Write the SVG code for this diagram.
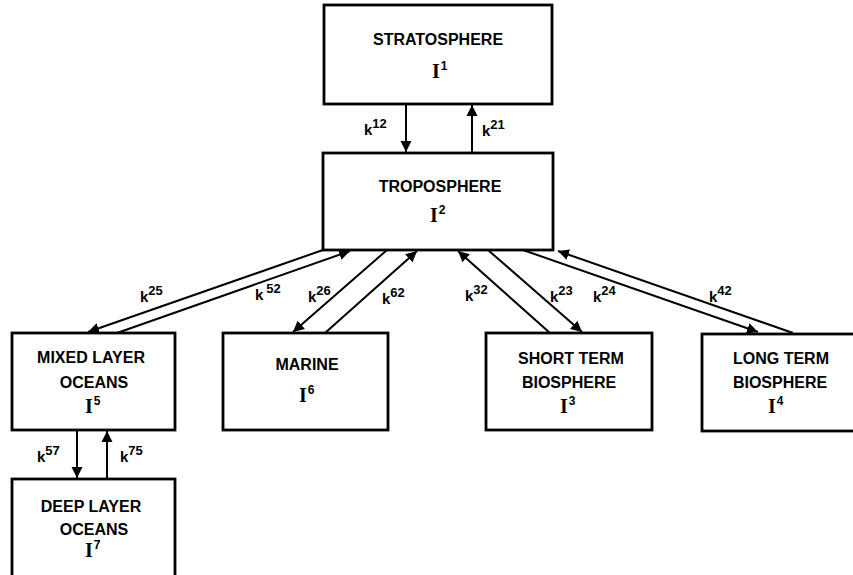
<svg xmlns="http://www.w3.org/2000/svg" width="853" height="575" viewBox="0 0 853 575">
<defs>
<style>
.box{fill:#fff;stroke:#000;stroke-width:2.8}
.ln{stroke:#000;stroke-width:2;fill:none;marker-end:url(#ah)}
.t{font-family:"Liberation Sans",Arial,sans-serif;font-weight:bold;font-size:16px;text-anchor:middle;fill:#000}
.i{font-family:"Liberation Serif","Times New Roman",serif;font-weight:bold;font-size:20px;fill:#000}
.is{font-family:"Liberation Sans",Arial,sans-serif;font-weight:bold;font-size:12px}
.k{font-family:"Liberation Sans",Arial,sans-serif;font-weight:bold;font-size:15px;fill:#000}
.ks{font-size:13px}
</style>
<marker id="ah" markerUnits="userSpaceOnUse" markerWidth="12" markerHeight="12" refX="11" refY="6" orient="auto">
<path d="M0,0.5 L11,6 L0,11.5 z" fill="#000"/>
</marker>
</defs>
<rect width="853" height="575" fill="#fff"/>
<g id="connectors">
<line class="ln" x1="406" y1="105" x2="406" y2="152"/>
<line class="ln" x1="472" y1="152" x2="472" y2="105"/>
<line class="ln" x1="323" y1="250" x2="88" y2="332"/>
<line class="ln" x1="117" y1="333" x2="350" y2="251"/>
<line class="ln" x1="387" y1="250" x2="293" y2="332"/>
<line class="ln" x1="325" y1="333" x2="417" y2="251"/>
<line class="ln" x1="550" y1="333" x2="458" y2="251"/>
<line class="ln" x1="488" y1="250" x2="582" y2="332"/>
<line class="ln" x1="523" y1="250" x2="758" y2="332"/>
<line class="ln" x1="793" y1="333" x2="558" y2="251"/>
<line class="ln" x1="77" y1="431" x2="77" y2="478"/>
<line class="ln" x1="107" y1="478" x2="107" y2="431"/>
<text class="k" x="364" y="135">k<tspan class="ks" dy="-7">12</tspan></text>
<text class="k" x="482" y="136">k<tspan class="ks" dy="-7">21</tspan></text>
<text class="k" x="140" y="302">k<tspan class="ks" dy="-7">25</tspan></text>
<text class="k" x="255" y="300">k<tspan class="ks" dx="3" dy="-7">52</tspan></text>
<text class="k" x="308" y="302">k<tspan class="ks" dy="-7">26</tspan></text>
<text class="k" x="382" y="304">k<tspan class="ks" dy="-7">62</tspan></text>
<text class="k" x="465" y="301">k<tspan class="ks" dy="-7">32</tspan></text>
<text class="k" x="550" y="302">k<tspan class="ks" dy="-7">23</tspan></text>
<text class="k" x="593" y="302">k<tspan class="ks" dy="-7">24</tspan></text>
<text class="k" x="709" y="302">k<tspan class="ks" dy="-7">42</tspan></text>
<text class="k" x="37" y="462">k<tspan class="ks" dy="-7">57</tspan></text>
<text class="k" x="120" y="462">k<tspan class="ks" dy="-7">75</tspan></text>
</g>
<g id="stratosphere">
<rect class="box" x="324" y="5" width="228" height="99"/>
<text class="t" x="438" y="45">STRATOSPHERE</text>
<text class="i" x="432" y="78">I<tspan class="is" dx="1" dy="-8">1</tspan></text>
</g>
<g id="troposphere">
<rect class="box" x="323" y="153" width="230" height="97"/>
<text class="t" x="440" y="192">TROPOSPHERE</text>
<text class="i" x="430" y="222">I<tspan class="is" dx="1" dy="-8">2</tspan></text>
</g>
<g id="mixed-layer-oceans">
<rect class="box" x="12" y="333" width="163" height="97"/>
<text class="t" x="91" y="363">MIXED LAYER</text>
<text class="t" x="94" y="388">OCEANS</text>
<text class="i" x="85" y="413">I<tspan class="is" dx="1" dy="-8">5</tspan></text>
</g>
<g id="marine">
<rect class="box" x="223" y="333" width="165" height="97"/>
<text class="t" x="307" y="370">MARINE</text>
<text class="i" x="299" y="402">I<tspan class="is" dx="1" dy="-8">6</tspan></text>
</g>
<g id="short-term-biosphere">
<rect class="box" x="486" y="333" width="166" height="97"/>
<text class="t" x="571" y="364">SHORT TERM</text>
<text class="t" x="569" y="388">BIOSPHERE</text>
<text class="i" x="560" y="413">I<tspan class="is" dx="1" dy="-8">3</tspan></text>
</g>
<g id="long-term-biosphere">
<rect class="box" x="702" y="334" width="160" height="97"/>
<text class="t" x="781" y="364">LONG TERM</text>
<text class="t" x="780" y="388">BIOSPHERE</text>
<text class="i" x="768" y="413">I<tspan class="is" dx="1" dy="-8">4</tspan></text>
</g>
<g id="deep-layer-oceans">
<rect class="box" x="12" y="479" width="163" height="110"/>
<text class="t" x="91" y="512">DEEP LAYER</text>
<text class="t" x="94" y="535">OCEANS</text>
<text class="i" x="85" y="557">I<tspan class="is" dx="1" dy="-8">7</tspan></text>
</g>
</svg>
